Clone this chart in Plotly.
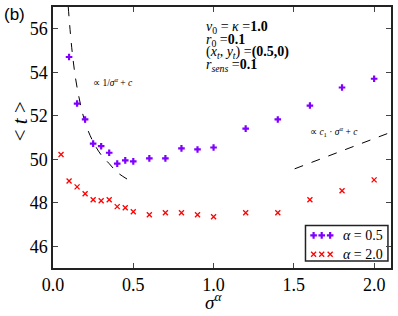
import plotly.graph_objects as go

# ---- data ----
sigma_a05 = [0.1, 0.15, 0.2, 0.25, 0.3, 0.35, 0.4, 0.45, 0.5, 0.6, 0.7, 0.8, 0.9, 1.0, 1.2, 1.4, 1.6, 1.8, 2.0]
t_a05 = [54.7, 52.56, 51.83, 50.72, 50.6, 50.3, 49.8, 49.95, 49.9, 50.04, 50.04, 50.5, 50.45, 50.54, 51.41, 51.83, 52.47, 53.3, 53.7]

sigma_a20 = [0.05, 0.1, 0.15, 0.2, 0.25, 0.3, 0.35, 0.4, 0.45, 0.5, 0.6, 0.7, 0.8, 0.9, 1.0, 1.2, 1.4, 1.6, 1.8, 2.0]
t_a20 = [50.22, 49.0, 48.73, 48.41, 48.14, 48.09, 48.14, 47.82, 47.77, 47.59, 47.45, 47.54, 47.54, 47.45, 47.36, 47.54, 47.54, 48.14, 48.55, 49.05]

# dashed guide curves
fit1_x = [0.095, 0.12, 0.15, 0.2, 0.25, 0.3, 0.35, 0.4, 0.47]
fit1_y = [57.0, 54.9, 53.3, 51.7, 50.8, 50.2, 49.8, 49.4, 49.05]
fit2_x = [1.505, 2.1]
fit2_y = [49.56, 51.23]

x_ticks = [0.0, 0.5, 1.0, 1.5, 2.0]
y_ticks = [46, 48, 50, 52, 54, 56]
legend_labels = ["<i>α</i> = 0.5", "<i>α</i> = 2.0"]

SERIF = "Liberation Serif"
PURPLE = "#7f00ff"
RED = "#ff0000"
purple_marker = dict(symbol="cross", size=5.5, color=PURPLE, line=dict(width=0))
red_marker = dict(symbol="x-thin", size=5, color=RED, line=dict(width=1.3, color=RED))

fig = go.Figure()
fig.add_trace(go.Scatter(x=fit1_x, y=fit1_y, mode="lines", line=dict(color="black", width=1, dash="dash", shape="spline"),
                         showlegend=False, hoverinfo="skip"))
fig.add_trace(go.Scatter(x=fit2_x, y=fit2_y, mode="lines", line=dict(color="black", width=1, dash="dash"),
                         showlegend=False, hoverinfo="skip"))
fig.add_trace(go.Scatter(x=sigma_a05, y=t_a05, mode="markers", name=legend_labels[0], marker=purple_marker, showlegend=False))
fig.add_trace(go.Scatter(x=sigma_a20, y=t_a20, mode="markers", name=legend_labels[1], marker=red_marker, showlegend=False))

# custom legend (three markers per entry, like the original), drawn on an overlay axis in paper units
leg_mx = [0.771, 0.795, 0.82]
leg_row_y = [0.125, 0.053]
fig.add_trace(go.Scatter(x=leg_mx, y=[leg_row_y[0]] * 3, xaxis="x2", yaxis="y2", mode="markers",
                         marker=purple_marker, showlegend=False, hoverinfo="skip"))
fig.add_trace(go.Scatter(x=leg_mx, y=[leg_row_y[1]] * 3, xaxis="x2", yaxis="y2", mode="markers",
                         marker=red_marker, showlegend=False, hoverinfo="skip"))

axis_common = dict(showline=True, linecolor="#222", linewidth=1.5, mirror="ticks", ticks="inside",
                   ticklen=5, tickwidth=1, tickcolor="#444", showgrid=False, zeroline=False,
                   tickfont=dict(family=SERIF, size=18, color="black"))
fig.update_layout(
    xaxis=dict(range=[0, 2.105], tickvals=x_ticks, ticktext=[f"{v:.1f}" for v in x_ticks], **axis_common),
    yaxis=dict(range=[45, 57], tickvals=y_ticks, ticktext=[str(v) for v in y_ticks], **axis_common),
    xaxis2=dict(overlaying="x", range=[0, 1], visible=False, fixedrange=True),
    yaxis2=dict(overlaying="y", range=[0, 1], visible=False, fixedrange=True),
)

ann = []
ann.append(dict(xref="paper", yref="paper", x=-0.152, y=0.973, xanchor="left", yanchor="middle",
                text="(b)", showarrow=False, font=dict(family="Liberation Sans", size=17, color="black")))
ann.append(dict(xref="paper", yref="paper", x=-0.097, y=0.563, textangle=-90, xanchor="center", yanchor="middle",
                text="&lt; <i>t</i> &gt;", showarrow=False, font=dict(family=SERIF, size=21, color="black")))
ann.append(dict(xref="paper", yref="paper", x=0.476, y=-0.128, xanchor="center", yanchor="middle",
                text="<i>σ<sup>α</sup></i>", showarrow=False, font=dict(family=SERIF, size=19, color="black")))
lines = ["<i>v</i><sub>0</sub> = <i>κ</i> =<b>1.0</b>",
         "<i>r</i><sub>0</sub> =<b>0.1</b>",
         "(<i>x<sub>t</sub></i>, <i>y<sub>t</sub></i>) =<b>(0.5,0)</b>",
         "<i>r<sub>sens</sub></i> =<b>0.1</b>"]
ys = [56.05, 55.48, 54.9, 54.33]
for t, yy in zip(lines, ys):
    ann.append(dict(x=0.94, y=yy, xanchor="left", yanchor="middle", text=t, showarrow=False,
                    font=dict(family=SERIF, size=14, color="black")))
ann.append(dict(x=0.235, y=53.57, xanchor="left", yanchor="middle", text="∝ 1/<i>σ<sup>α</sup></i> + <i>c</i>",
                showarrow=False, font=dict(family=SERIF, size=9.5, color="black")))
ann.append(dict(x=1.585, y=51.27, xanchor="left", yanchor="middle", text="∝ <i>c</i><sub>1</sub> · <i>σ<sup>α</sup></i> + <i>c</i>",
                showarrow=False, font=dict(family=SERIF, size=9.5, color="black")))
for lab, yy in zip(legend_labels, leg_row_y):
    ann.append(dict(xref="paper", yref="paper", x=0.852, y=yy, xanchor="left", yanchor="middle", text=lab,
                    showarrow=False, font=dict(family=SERIF, size=14, color="black")))

fig.update_layout(
    width=398, height=316,
    margin=dict(l=53, r=5, t=5, b=48),
    paper_bgcolor="white", plot_bgcolor="white",
    annotations=ann,
    shapes=[dict(type="rect", xref="paper", yref="paper", x0=0.747, x1=0.991, y0=0.027, y1=0.163,
                 line=dict(color="#222", width=1.5), fillcolor="white", layer="below")],
    showlegend=False,
)
fig.write_html("out.html", config={"displayModeBar": False},
               post_script="document.body.style.margin='0px';document.body.style.overflow='hidden';")
